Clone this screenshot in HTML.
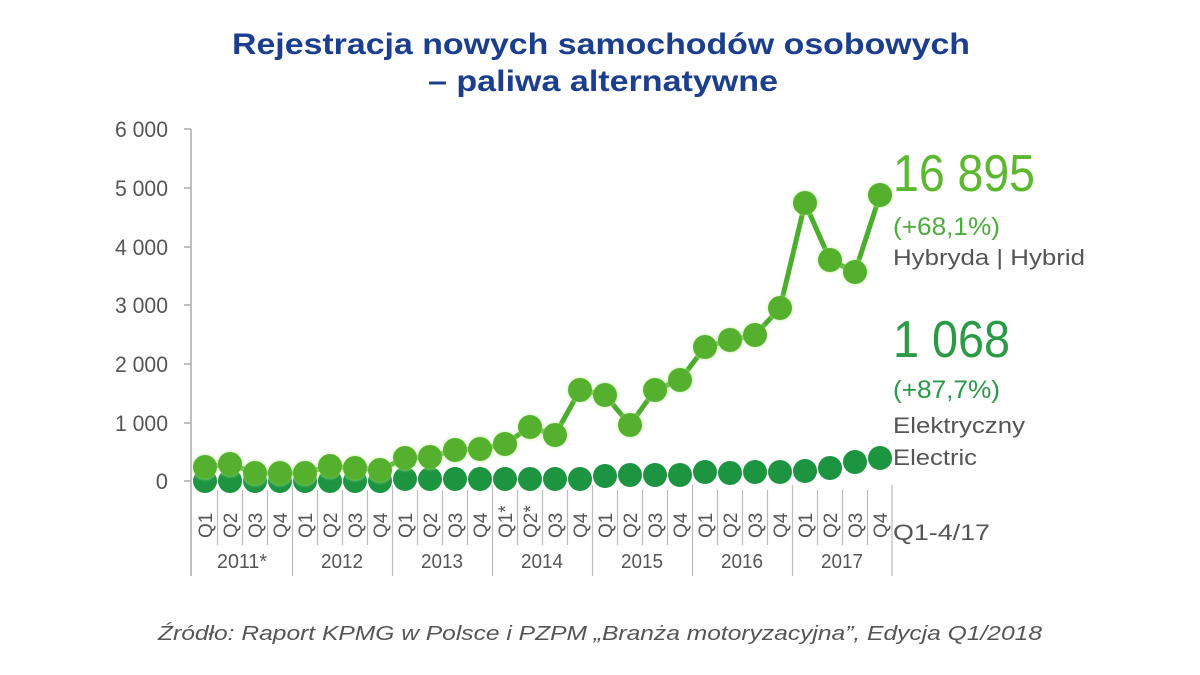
<!DOCTYPE html>
<html><head><meta charset="utf-8"><style>
body{margin:0;background:#fff;}
svg{display:block;}
.t{font-family:"Liberation Sans",sans-serif;}
</style></head><body>
<svg width="1200" height="675" viewBox="0 0 1200 675" xmlns="http://www.w3.org/2000/svg">
<defs>
<filter id="glow" x="-50%" y="-50%" width="200%" height="200%">
<feGaussianBlur in="SourceAlpha" stdDeviation="1.5" result="b"/>
<feFlood flood-color="#b8f08a"/><feComposite in2="b" operator="in" result="g"/>
<feMerge><feMergeNode in="g"/><feMergeNode in="SourceGraphic"/></feMerge>
</filter>
</defs>
<g class="t" font-weight="bold" fill="#1b3f8e" font-size="30">
<text x="232" y="54" textLength="738" lengthAdjust="spacingAndGlyphs">Rejestracja nowych samochodów osobowych</text>
<text x="428" y="91" textLength="350" lengthAdjust="spacingAndGlyphs">– paliwa alternatywne</text>
</g>
<g class="t" font-size="22" fill="#555" text-anchor="end">
<text x="168" y="137" textLength="53" lengthAdjust="spacingAndGlyphs">6 000</text><text x="168" y="196" textLength="53" lengthAdjust="spacingAndGlyphs">5 000</text><text x="168" y="255" textLength="53" lengthAdjust="spacingAndGlyphs">4 000</text>
<text x="168" y="313" textLength="53" lengthAdjust="spacingAndGlyphs">3 000</text><text x="168" y="372" textLength="53" lengthAdjust="spacingAndGlyphs">2 000</text><text x="168" y="431" textLength="53" lengthAdjust="spacingAndGlyphs">1 000</text><text x="168" y="489">0</text>
</g>
<g stroke="#aaa" stroke-width="1.5">
<line x1="191" y1="129" x2="191" y2="576"/>
<line x1="184" y1="129" x2="191" y2="129"/><line x1="184" y1="188" x2="191" y2="188"/><line x1="184" y1="247" x2="191" y2="247"/>
<line x1="184" y1="305" x2="191" y2="305"/><line x1="184" y1="364" x2="191" y2="364"/><line x1="184" y1="423" x2="191" y2="423"/><line x1="184" y1="481" x2="191" y2="481"/>
</g>
<g id="grid" stroke="#bbb" stroke-width="1.2"></g>
<g id="ql" class="t" font-size="19" fill="#555"></g>
<g class="t" font-size="20" fill="#555" text-anchor="middle">
<text x="242" y="568" textLength="50" lengthAdjust="spacingAndGlyphs">2011*</text><text x="342" y="568" textLength="42" lengthAdjust="spacingAndGlyphs">2012</text><text x="442" y="568" textLength="42" lengthAdjust="spacingAndGlyphs">2013</text>
<text x="542" y="568" textLength="42" lengthAdjust="spacingAndGlyphs">2014</text><text x="642" y="568" textLength="42" lengthAdjust="spacingAndGlyphs">2015</text><text x="742" y="568" textLength="42" lengthAdjust="spacingAndGlyphs">2016</text><text x="842" y="568" textLength="42" lengthAdjust="spacingAndGlyphs">2017</text>
</g>
<g id="el"></g>
<g id="hyline" stroke="#4aad2c" stroke-width="5"></g>
<g id="hy" filter="url(#glow)"></g>
<g class="t">
<text x="893" y="191" font-size="52" fill="#5cb82e" textLength="142" lengthAdjust="spacingAndGlyphs">16 895</text>
<text x="893" y="235" font-size="25" fill="#4cae3a" textLength="107" lengthAdjust="spacingAndGlyphs">(+68,1%)</text>
<text x="893" y="265" font-size="22" fill="#555" textLength="192" lengthAdjust="spacingAndGlyphs">Hybryda | Hybrid</text>
<text x="893" y="357" font-size="52" fill="#2a9a45" textLength="117" lengthAdjust="spacingAndGlyphs">1 068</text>
<text x="893" y="398" font-size="25" fill="#2a9a45" textLength="107" lengthAdjust="spacingAndGlyphs">(+87,7%)</text>
<text x="893" y="433" font-size="22" fill="#555" textLength="132" lengthAdjust="spacingAndGlyphs">Elektryczny</text>
<text x="893" y="465" font-size="22" fill="#555" textLength="84" lengthAdjust="spacingAndGlyphs">Electric</text>
<text x="893" y="540" font-size="22" fill="#555" textLength="97" lengthAdjust="spacingAndGlyphs">Q1-4/17</text>
<text x="158" y="640" font-size="20" font-style="italic" fill="#555" textLength="884" lengthAdjust="spacingAndGlyphs">Źródło: Raport KPMG w Polsce i PZPM „Branża motoryzacyjna”, Edycja Q1/2018</text>
</g>
<script>
var NS="http://www.w3.org/2000/svg";
function el(p,n,a,t){var e=document.createElementNS(NS,n);for(var k in a)e.setAttribute(k,a[k]);if(t)e.textContent=t;document.getElementById(p).appendChild(e);}
var hy=[467,464,473,473,473,466,468,470,458,457,450,449,444,427,435,390,395,425,390,380,347,340,335,308,203,260,272,195];
var ev=[481,481,481,481,481,481,481,481,479,479,479,479,479,479,479,479,476,475,475,475,472,473,472,472,471,468,462,458];
var ql=["Q1","Q2","Q3","Q4"];
for(var i=0;i<28;i++){
 var x=205+25*i;
 var lab=ql[i%4]; if(i==12)lab="Q1*"; if(i==13)lab="Q2*";
 el("ql","text",{x:0,y:0,transform:"translate("+(x+7)+",538) rotate(-90)"},lab);
 var sx=x+12.5;
 if(i<27){ if(i%4==3) el("grid","line",{x1:sx,y1:485,x2:sx,y2:576}); else el("grid","line",{x1:sx,y1:490,x2:sx,y2:545}); }
 el("el","circle",{cx:x,cy:ev[i],r:12,fill:"#1d9540"});
 if(i<27){var x2=x+25,y1=hy[i],y2=hy[i+1],dx=25,dy=y2-y1,L=Math.sqrt(dx*dx+dy*dy),ux=dx/L,uy=dy/L;
  el("hyline","line",{x1:x+ux*11,y1:y1+uy*11,x2:x2-ux*11,y2:y2-uy*11});}
}
el("grid","line",{x1:892,y1:485,x2:892,y2:576});
for(var i=0;i<28;i++) el("hy","circle",{cx:205+25*i,cy:hy[i],r:12,fill:"#55b02f"});
</script>
</svg>
</body></html>
